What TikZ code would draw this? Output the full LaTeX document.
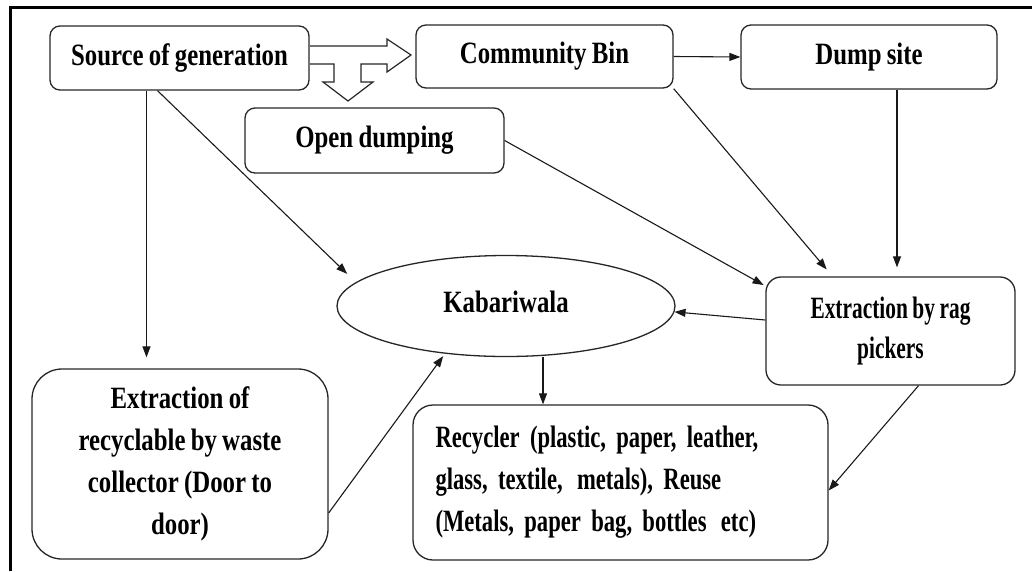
\documentclass[tikz,border=0pt]{standalone}
\usepackage{fontspec}
\setmainfont{Liberation Serif}[FakeStretch=0.8, WordSpace=0.85]
\newfontfamily\ragfont{Liberation Serif}[FakeStretch=0.69, WordSpace=0.85]
\newfontfamily\cycfont{Liberation Serif}[FakeStretch=0.73, WordSpace=0.85]
\frenchspacing
\usetikzlibrary{arrows.meta,shapes.geometric}

\begin{document}
\begin{tikzpicture}[x=1pt,y=-1pt]
        \tikzstyle Box Node=[draw=black!85, line width=1.3pt, rounded corners=10pt, align=center, inner sep=0pt, font=\bfseries\fontsize{31}{42}\selectfont]
        \tikzstyle Oval Node=[Box Node, ellipse, rounded corners=0pt]
        \tikzstyle Flow Line=[line width=1.1pt, color=black!90, -{Triangle[length=11pt,width=8pt]}]
        \tikzstyle Block Arrow=[line width=1.2pt, color=black!85, fill=white]
        \tikzstyle Frame Line=[line width=3pt]

        \useasboundingbox (0,0) rectangle (1032,571);
        \draw[Frame Line] (10,571) -- (10,7) -- (1032,7);

        \node[Box Node, minimum width=259pt, minimum height=64pt] (src) at (179.5,58) {Source of generation};
        \node[Box Node, minimum width=257pt, minimum height=63pt] (bin) at (544.5,56.5) {Community Bin};
        \node[Box Node, minimum width=256pt, minimum height=64pt] (dump) at (869,57) {Dump site};
        \node[Box Node, minimum width=259pt, minimum height=65pt] (open) at (374.5,140.5) {Open dumping};
        \node[Oval Node, minimum width=338pt, minimum height=101pt] (kab) at (506,306) {\raisebox{9pt}{Kabariwala}};
        \node[Box Node, font=\ragfont\bfseries\fontsize{31}{40}\selectfont, rounded corners=15pt, minimum width=249pt, minimum height=108pt] (rag) at (890.5,331) {Extraction by rag\\pickers};
        \node[Box Node, rounded corners=30pt, minimum width=296pt, minimum height=190pt] (rec) at (180,464) {Extraction of\\recyclable by waste\\collector (Door to\\door)};
        \node[Box Node, font=\cycfont\bfseries\fontsize{31}{42}\selectfont, rounded corners=20pt, align=left, text width=370pt, inner xsep=22.5pt, minimum height=155pt] (cyc) at (620.5,482.5) {Recycler (plastic, paper, leather,\\glass, textile,\hspace{4pt} metals), Reuse\\(Metals, paper bag, bottles\hspace{4pt} etc)};

        % split arrow out of the source
        \draw[Block Arrow] (310,46) -- (387,46) -- (387,39) -- (411,55) -- (387,72) -- (387,64) -- (361,64) -- (361,82) -- (373,82) -- (348,101) -- (323,82) -- (334,82) -- (334,64) -- (310,64);

        \draw[Flow Line] (bin.east) -- (dump.west);
        \draw[Flow Line, shorten >=11pt] ([xshift=-33pt]src.south) -- ([xshift=-33pt]src.south |- rec.north);
        \draw[Flow Line, shorten >=12pt] ([xshift=-22pt]src.south) -- (kab.171);
        \draw[Flow Line, shorten >=2pt] (open.east) -- ([yshift=45pt]rag.west);
        \draw[Flow Line, shorten >=9pt] (bin.south east) -- ([xshift=-58pt]rag.north);
        \draw[Flow Line, shorten >=9pt] ([xshift=28pt]dump.south) -- ([xshift=28pt]dump.south |- rag.north);
        \draw[Flow Line] ([yshift=11pt]rag.west) -- (kab.-2);
        \draw[Flow Line] ([xshift=37pt]kab.south) -- ([xshift=37pt]kab.south |- cyc.north);
        \draw[Flow Line, shorten >=3pt] ([yshift=-49pt]rec.east) -- (kab.218);
        \draw[Flow Line] ([xshift=28pt]rag.south) -- ([yshift=-8pt]cyc.east);
    \end{tikzpicture}
\end{document}
